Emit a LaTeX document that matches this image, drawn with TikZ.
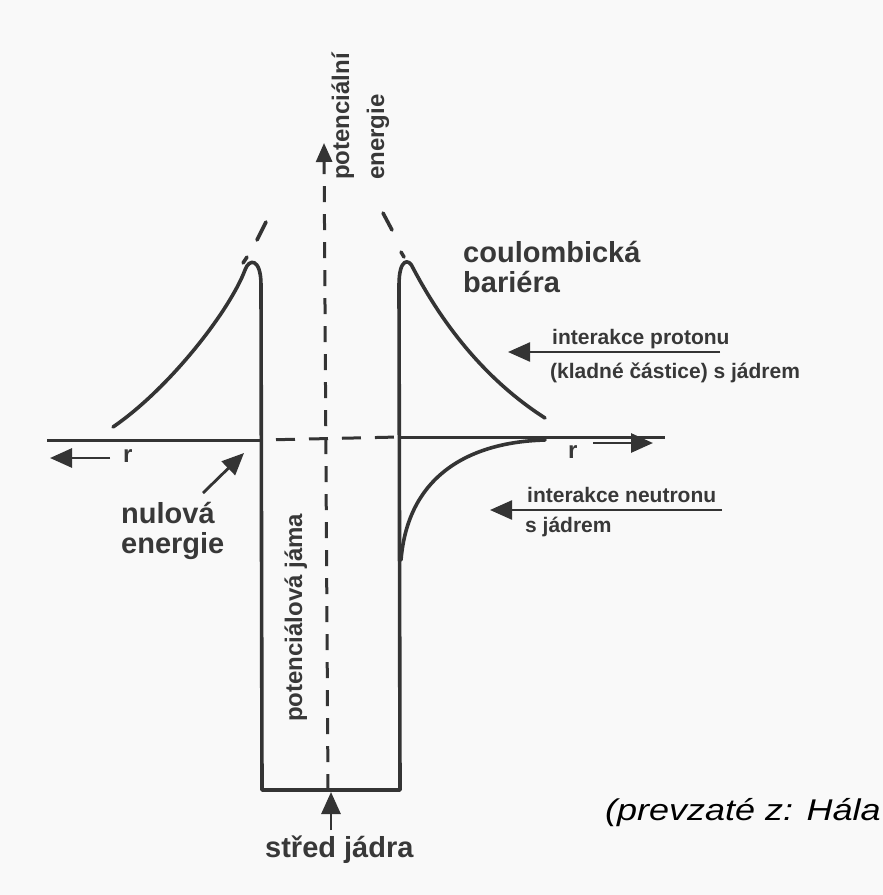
\documentclass[tikz,border=0pt]{standalone}
\usepackage{fontspec}
\setmainfont{Liberation Sans}
\usetikzlibrary{arrows.meta}
\definecolor{ink}{HTML}{343434}
\definecolor{txt}{HTML}{383838}
\definecolor{paper}{HTML}{F9F9F9}
\begin{document}
\begin{tikzpicture}[x=1pt,y=-1pt,
  curve/.style={draw=ink, line width=3.6pt, line cap=round, line join=round},
  axisline/.style={draw=ink, line width=3pt},
  dashaxis/.style={draw=ink, line width=3pt, dash pattern=on 16pt off 12pt},
  arr/.style={draw=ink, line width=2.8pt, -{Triangle[length=22pt,width=19pt]}},
  big/.style={text=txt, font=\bfseries\fontsize{29}{31}\selectfont, inner sep=0pt, anchor=base west},
  small/.style={text=txt, font=\bfseries\fontsize{21}{24}\selectfont, inner sep=0pt, anchor=base west},
  mid/.style={text=txt, font=\bfseries\fontsize{24}{26}\selectfont, inner sep=0pt, anchor=base west},
]
\useasboundingbox[fill=paper] (0,0) rectangle (883,895);

% coordinates
\coordinate (axB) at (328,790);
\coordinate (axT) at (324,143);
\coordinate (hL) at (47,440);
\coordinate (wL) at (262,440);
\coordinate (wR) at (399,437);
\coordinate (hR) at (665,437);

% zero-energy axis
\draw[axisline] (hL) -- (wL);
\draw[draw=ink, line width=3pt, dash pattern=on 19pt off 14pt, dash phase=-14pt] (wL) -- (wR);
\draw[axisline] (wR) -- (hR);

% vertical dashed axis
\draw[dashaxis, -{Triangle[length=19pt,width=16pt]}] (axB) -- (axT);

% potential curve for proton: barrier + well
\draw[curve] (113,427) .. controls (170,388) and (230,310) .. (245,270)
  .. controls (249,258) and (261,258) .. (261,285) -- (262,790) -- (400,790)
  -- (399,285) .. controls (399,258) and (409,258) .. (413,268)
  .. controls (430,300) and (470,370) .. (545,418);

% dashed continuation of Coulomb curve
\draw[curve] (243,263) -- (247,257);
\draw[curve] (257,240) -- (266,222);
\draw[curve] (401,252) -- (404,257);
\draw[curve] (383,213) -- (392,230);

% neutron curve
\draw[curve] (545,440) .. controls (470,442) and (408,475) .. (401,560);

% r arrows
\coordinate (rLs) at (110,458);
\coordinate (rLe) at (50,458);
\draw[arr] (rLs) -- (rLe);
\node[mid] (rL) at (123,462) {r};
\coordinate (rRs) at (593,443);
\coordinate (rRe) at (653,443);
\draw[arr] (rRs) -- (rRe);
\node[mid] (rR) at (568,458) {r};

% labels
\node[mid, rotate=90] (pe1) at (349,180) {potenciální};
\node[mid, rotate=90] (pe2) at (384,180) {energie};

\node[big] (cb1) at (463,262) {coulombická};
\node[big] (cb2) at (463,292) {bariéra};

\node[small] (ip1) at (552,344) {interakce protonu};
\node[small] (ip2) at (550,378) {(kladné částice) s jádrem};
\coordinate (ipS) at (720,352);
\coordinate (ipE) at (508,352);
\draw[arr, line width=2.4pt] (ipS) -- (ipE);

\node[small] (in1) at (527,502) {interakce neutronu};
\node[small] (in2) at (525,532) {s jádrem};
\coordinate (inS) at (722,510);
\coordinate (inE) at (490,510);
\draw[arr, line width=2.4pt] (inS) -- (inE);

\node[big] (ne1) at (121,523) {nulová};
\node[big] (ne2) at (121,553) {energie};
\coordinate (neS) at (203,493);
\coordinate (neE) at (244,453);
\draw[arr] (neS) -- (neE);

\node[mid, rotate=90] (pj) at (302,722) {potenciálová jáma};

\node[big] (sj) at (265,857) {střed jádra};
\coordinate (sjS) at (331,830);
\coordinate (sjE) at (331,792);
\draw[arr] (sjS) -- (sjE);

\node[inner sep=0pt, anchor=base west, font=\itshape\fontsize{30}{32}\selectfont] (cr) at (605,820) {\scalebox{1.2}[1]{(prevzaté z: Hála}};
\end{tikzpicture}
\end{document}
